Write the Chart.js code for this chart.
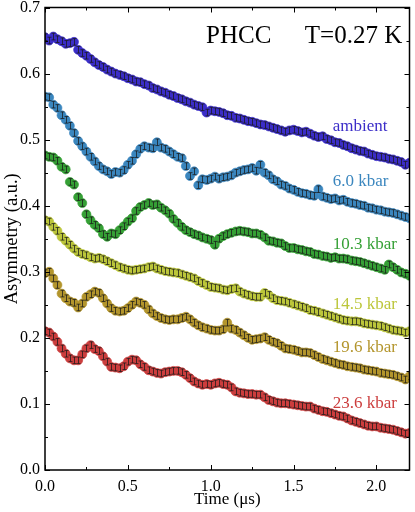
<!DOCTYPE html>
<html>
<head>
<meta charset="utf-8">
<script src="https://cdn.jsdelivr.net/npm/chart.js@4.4.1/dist/chart.umd.min.js"></script>
<style>
  html, body { margin: 0; padding: 0; background: #fff; }
  canvas { display: block; }
</style>
</head>
<body>
<canvas id="my-chart" width="415" height="512"></canvas>
<script>
'use strict';

// ******** DATA ********
let times = [
  0, 0.025, 0.05, 0.075, 0.1, 0.125, 0.15, 0.175, 0.2, 0.225,
  0.25, 0.275, 0.3, 0.325, 0.35, 0.375, 0.4, 0.425, 0.45, 0.475,
  0.5, 0.525, 0.55, 0.575, 0.6, 0.625, 0.65, 0.675, 0.7, 0.725,
  0.75, 0.775, 0.8, 0.825, 0.85, 0.875, 0.9, 0.925, 0.95, 0.975,
  1.0, 1.025, 1.05, 1.075, 1.1, 1.125, 1.15, 1.175, 1.2, 1.225,
  1.25, 1.275, 1.3, 1.325, 1.35, 1.375, 1.4, 1.425, 1.45, 1.475,
  1.5, 1.525, 1.55, 1.575, 1.6, 1.625, 1.65, 1.675, 1.7, 1.725,
  1.75, 1.775, 1.8, 1.825, 1.85, 1.875, 1.9, 1.925, 1.95, 1.975,
  2.0, 2.025, 2.05, 2.075, 2.1, 2.125, 2.15, 2.175, 2.2
];

let ambient = [
  0.655, 0.650, 0.656, 0.652, 0.649, 0.645, 0.646, 0.648, 0.636, 0.631,
  0.627, 0.622, 0.617, 0.613, 0.610, 0.606, 0.603, 0.600, 0.598, 0.596,
  0.593, 0.591, 0.588, 0.587, 0.584, 0.582, 0.578, 0.576, 0.573, 0.571,
  0.568, 0.566, 0.563, 0.561, 0.558, 0.556, 0.553, 0.551, 0.549, 0.541,
  0.544, 0.543, 0.542, 0.540, 0.537, 0.536, 0.533, 0.532, 0.530, 0.528,
  0.527, 0.525, 0.523, 0.522, 0.520, 0.518, 0.516, 0.514, 0.512, 0.514,
  0.515, 0.513, 0.511, 0.512, 0.509, 0.506, 0.504, 0.505, 0.501, 0.499,
  0.496, 0.495, 0.492, 0.490, 0.487, 0.485, 0.483, 0.482, 0.479, 0.477,
  0.475, 0.474, 0.473, 0.471, 0.470, 0.468, 0.466, 0.462, 0.465
];

let kbar60 = [
  0.565, 0.564, 0.553, 0.548, 0.537, 0.530, 0.521, 0.510, 0.498, 0.490,
  0.482, 0.474, 0.467, 0.460, 0.455, 0.452, 0.448, 0.451, 0.450, 0.454,
  0.462, 0.468, 0.478, 0.486, 0.490, 0.488, 0.487, 0.496, 0.488, 0.486,
  0.482, 0.478, 0.474, 0.472, 0.460, 0.445, 0.452, 0.431, 0.440, 0.439,
  0.441, 0.444, 0.441, 0.443, 0.444, 0.446, 0.450, 0.452, 0.454, 0.455,
  0.457, 0.453, 0.462, 0.450, 0.446, 0.440, 0.437, 0.432, 0.430, 0.426,
  0.424, 0.421, 0.419, 0.418, 0.416, 0.415, 0.425, 0.414, 0.412, 0.410,
  0.411, 0.408, 0.409, 0.406, 0.404, 0.403, 0.401, 0.400, 0.397, 0.396,
  0.394, 0.393, 0.391, 0.390, 0.389, 0.387, 0.385, 0.383, 0.381
];

let kbar103 = [
  0.476, 0.474, 0.473, 0.468, 0.459, 0.455, 0.436, 0.432, 0.413, 0.404,
  0.387, 0.378, 0.371, 0.366, 0.357, 0.353, 0.358, 0.357, 0.363, 0.369,
  0.376, 0.381, 0.392, 0.398, 0.401, 0.404, 0.401, 0.402, 0.397, 0.393,
  0.388, 0.380, 0.374, 0.368, 0.363, 0.360, 0.357, 0.355, 0.352, 0.350,
  0.348, 0.341, 0.350, 0.354, 0.357, 0.359, 0.361, 0.362, 0.361, 0.360,
  0.358, 0.358, 0.356, 0.352, 0.347, 0.346, 0.344, 0.343, 0.339, 0.336,
  0.336, 0.334, 0.333, 0.331, 0.330, 0.327, 0.326, 0.324, 0.323, 0.321,
  0.322, 0.320, 0.320, 0.319, 0.317, 0.316, 0.315, 0.313, 0.311, 0.309,
  0.307, 0.305, 0.303, 0.311, 0.307, 0.303, 0.299, 0.297, 0.294
];

let kbar145 = [
  0.378, 0.376, 0.368, 0.362, 0.353, 0.347, 0.341, 0.335, 0.330, 0.327,
  0.325, 0.322, 0.320, 0.321, 0.319, 0.316, 0.313, 0.310, 0.307, 0.305,
  0.303, 0.302, 0.303, 0.304, 0.305, 0.307, 0.308, 0.305, 0.303, 0.301,
  0.300, 0.299, 0.298, 0.296, 0.294, 0.292, 0.290, 0.286, 0.283, 0.280,
  0.277, 0.276, 0.275, 0.273, 0.272, 0.274, 0.275, 0.270, 0.267, 0.265,
  0.263, 0.262, 0.262, 0.268, 0.265, 0.260, 0.257, 0.256, 0.255, 0.253,
  0.251, 0.249, 0.247, 0.245, 0.242, 0.241, 0.239, 0.237, 0.235, 0.233,
  0.231, 0.229, 0.227, 0.226, 0.225, 0.225, 0.224, 0.222, 0.221, 0.220,
  0.219, 0.218, 0.216, 0.214, 0.212, 0.211, 0.210, 0.208, 0.210
];

let kbar196 = [
  0.298, 0.300, 0.290, 0.280, 0.267, 0.260, 0.255, 0.253, 0.246, 0.252,
  0.262, 0.266, 0.270, 0.268, 0.260, 0.252, 0.245, 0.241, 0.240, 0.241,
  0.245, 0.250, 0.255, 0.253, 0.250, 0.243, 0.237, 0.233, 0.230, 0.228,
  0.227, 0.228, 0.228, 0.230, 0.232, 0.228, 0.223, 0.219, 0.216, 0.214,
  0.212, 0.211, 0.211, 0.213, 0.223, 0.214, 0.212, 0.208, 0.204, 0.200,
  0.197, 0.198, 0.199, 0.201, 0.197, 0.194, 0.192, 0.188, 0.184, 0.183,
  0.182, 0.180, 0.178, 0.178, 0.177, 0.174, 0.171, 0.168, 0.166, 0.164,
  0.162, 0.160, 0.159, 0.157, 0.156, 0.155, 0.154, 0.152, 0.151, 0.150,
  0.149, 0.147, 0.146, 0.145, 0.144, 0.142, 0.140, 0.137, 0.142
];

let kbar236 = [
  0.210, 0.208, 0.202, 0.194, 0.184, 0.176, 0.169, 0.166, 0.166, 0.175,
  0.184, 0.189, 0.183, 0.180, 0.172, 0.164, 0.156, 0.155, 0.154, 0.157,
  0.164, 0.167, 0.166, 0.160, 0.156, 0.151, 0.149, 0.147, 0.146, 0.148,
  0.149, 0.150, 0.150, 0.148, 0.144, 0.139, 0.134, 0.131, 0.129, 0.130,
  0.129, 0.131, 0.132, 0.130, 0.129, 0.125, 0.119, 0.117, 0.116, 0.115,
  0.115, 0.114, 0.114, 0.110, 0.106, 0.104, 0.102, 0.101, 0.101, 0.100,
  0.099, 0.098, 0.097, 0.096, 0.096, 0.093, 0.091, 0.089, 0.088, 0.086,
  0.084, 0.082, 0.081, 0.078, 0.075, 0.073, 0.071, 0.069, 0.067, 0.066,
  0.066, 0.064, 0.063, 0.062, 0.061, 0.059, 0.057, 0.055, 0.056
];

let seriesValues = [ambient, kbar60, kbar103, kbar145, kbar196, kbar236];
let seriesNames = ['ambient', '6.0 kbar', '10.3 kbar', '14.5 kbar', '19.6 kbar', '23.6 kbar'];
let errorSize = 0.005;

// tick values
let xMajorTicks = [0, 0.5, 1.0, 1.5, 2.0];
let xMinorTicks = [0.25, 0.75, 1.25, 1.75];
let yMajorTicks = [0, 0.1, 0.2, 0.3, 0.4, 0.5, 0.6, 0.7];
let yMinorTicks = [0.05, 0.15, 0.25, 0.35, 0.45, 0.55, 0.65];

// ******** STYLE ********
let seriesColors = ['#3b2dc8', '#3a86be', '#35a035', '#bcc63a', '#b3952c', '#cc3d3d'];
let labelSpots = [
  [1.737, 0.520], [1.737, 0.436], [1.737, 0.341],
  [1.737, 0.251], [1.737, 0.186], [1.737, 0.100]
];
let serif = '"Liberation Serif", "DejaVu Serif", serif';

// ******** PLUGIN: frame, ticks, error bars, labels ********
let decorPlugin = {
  id: 'decor',
  afterDatasetsDraw(chart) {
    let ctx = chart.ctx;
    let a = chart.chartArea;
    let xs = chart.scales.x;
    let ys = chart.scales.y;

    // error bars
    ctx.save();
    ctx.beginPath();
    ctx.rect(a.left, a.top, a.right - a.left, a.bottom - a.top);
    ctx.clip();
    ctx.strokeStyle = 'rgba(25,25,25,0.75)';
    ctx.lineWidth = 1;
    chart.data.datasets.forEach(function (ds, i) {
      let meta = chart.getDatasetMeta(i);
      meta.data.forEach(function (pt, j) {
        let v = ds.data[j].y;
        let yTop = ys.getPixelForValue(v + errorSize);
        let yBot = ys.getPixelForValue(v - errorSize);
        let x = Math.round(pt.x) + 0.5;
        ctx.beginPath();
        ctx.moveTo(x, yTop);
        ctx.lineTo(x, yBot);
        ctx.moveTo(x - 2, yTop);
        ctx.lineTo(x + 2, yTop);
        ctx.moveTo(x - 2, yBot);
        ctx.lineTo(x + 2, yBot);
        ctx.stroke();
      });
    });
    ctx.restore();

    // series labels
    ctx.save();
    ctx.font = '17px ' + serif;
    ctx.textAlign = 'left';
    ctx.textBaseline = 'middle';
    for (let i = 0; i < seriesNames.length; i++) {
      ctx.fillStyle = seriesColors[i];
      ctx.fillText(seriesNames[i], xs.getPixelForValue(labelSpots[i][0]), ys.getPixelForValue(labelSpots[i][1]));
    }
    ctx.font = '25px ' + serif;
    ctx.fillStyle = '#000';
    ctx.fillText('PHCC', xs.getPixelForValue(0.972), ys.getPixelForValue(0.656));
    ctx.fillText('T=0.27 K', xs.getPixelForValue(1.568), ys.getPixelForValue(0.656));
    ctx.restore();
  },
  afterDraw(chart) {
    let ctx = chart.ctx;
    let a = chart.chartArea;
    let xs = chart.scales.x;
    let ys = chart.scales.y;
    ctx.save();
    ctx.strokeStyle = '#000';
    ctx.lineWidth = 1.5;
    ctx.strokeRect(a.left, a.top, a.right - a.left, a.bottom - a.top);
    ctx.lineWidth = 1;
    function xTick(v, len) {
      let x = Math.round(xs.getPixelForValue(v)) + 0.5;
      ctx.beginPath();
      ctx.moveTo(x, a.bottom);
      ctx.lineTo(x, a.bottom - len);
      ctx.moveTo(x, a.top);
      ctx.lineTo(x, a.top + len);
      ctx.stroke();
    }
    function yTick(v, len) {
      let y = Math.round(ys.getPixelForValue(v)) + 0.5;
      ctx.beginPath();
      ctx.moveTo(a.left, y);
      ctx.lineTo(a.left + len, y);
      ctx.moveTo(a.right, y);
      ctx.lineTo(a.right - len, y);
      ctx.stroke();
    }
    xMajorTicks.forEach(v => xTick(v, 5));
    xMinorTicks.forEach(v => xTick(v, 3));
    yMajorTicks.forEach(v => yTick(v, 5));
    yMinorTicks.forEach(v => yTick(v, 3));
    ctx.restore();
  }
};

// ******** CHART ********
let datasets = [];
for (let i = 0; i < seriesValues.length; i++) {
  datasets.push({
    label: seriesNames[i],
    data: times.map((t, j) => ({ x: t, y: seriesValues[i][j] })),
    showLine: false,
    clip: 0,
    pointRadius: 4.5,
    pointBackgroundColor: seriesColors[i],
    pointBorderColor: seriesColors[i] + 'aa',
    pointBorderWidth: 1
  });
}

let canvasElem = document.getElementById('my-chart');

new Chart(canvasElem, {
  type: 'scatter',
  data: { datasets: datasets },
  options: {
    responsive: false,
    animation: false,
    devicePixelRatio: 1,
    layout: { padding: { top: 7.5, right: 4, left: 0, bottom: 0 } },
    plugins: {
      legend: { display: false },
      tooltip: { enabled: false }
    },
    scales: {
      x: {
        type: 'linear',
        min: 0,
        max: 2.2,
        grid: { display: false, drawTicks: false },
        border: { display: false },
        ticks: {
          stepSize: 0.5,
          includeBounds: false,
          padding: 7,
          color: '#000',
          font: { family: serif, size: 16 },
          callback: v => v.toFixed(1)
        },
        title: {
          display: true,
          text: 'Time (μs)',
          color: '#000',
          padding: { top: 0, bottom: 2 },
          font: { family: serif, size: 17 }
        },
        afterFit: s => { s.height = 42; }
      },
      y: {
        min: 0,
        max: 0.7,
        grid: { display: false, drawTicks: false },
        border: { display: false },
        ticks: {
          stepSize: 0.1,
          padding: 5,
          color: '#000',
          font: { family: serif, size: 16 },
          callback: v => v.toFixed(1)
        },
        title: {
          display: true,
          text: 'Asymmetry (a.u.)',
          color: '#000',
          padding: { top: 1, bottom: 0 },
          font: { family: serif, size: 18.5 }
        },
        afterFit: s => { s.width = 45; s.paddingTop = 0; s.paddingBottom = 0; }
      }
    }
  },
  plugins: [decorPlugin]
});
</script>
</body>
</html>
